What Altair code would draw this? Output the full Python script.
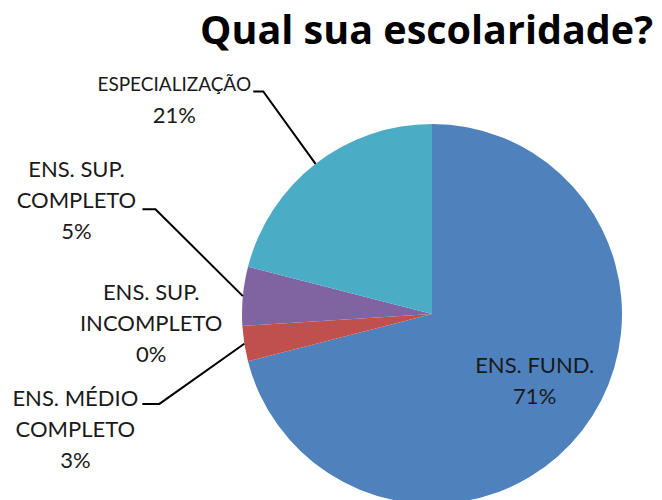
import math
import altair as alt
import pandas as pd

# ---- data ----
categories = ["ENS. FUND.", "ENS. MÉDIO COMPLETO", "ENS. SUP. INCOMPLETO",
              "ENS. SUP. COMPLETO", "ESPECIALIZAÇÃO"]
values = [71, 3, 0, 5, 21]
label_lines = [["ENS. FUND."], ["ENS. MÉDIO", "COMPLETO"], ["ENS. SUP.", "INCOMPLETO"],
               ["ENS. SUP.", "COMPLETO"], ["ESPECIALIZAÇÃO"]]
colors = ["#4F81BD", "#C0504D", "#9BBB59", "#8064A2", "#4BACC6"]
title_text = "Qual sua escolaridade?"

# ---- layout (pixels, plot coordinates) ----
W, H = 646, 500
TITLE_RIGHT = 645
CX, CY, R = 424, 306, 190
LH = 31
label_dist = [123, 375, 281, 373, 335]          # distance of label block from centre
label_shift = [-4.4, -9.0, 1.5, 12.2, -12.5]    # degrees from slice middle
name_size = [22, 22, 22, 22, 19]
leader = {1: ((67, -26), (84, -26)), 3: ((66, 8), (79, 8)), 4: ((79, -8.5), (89, -8.5))}

total = sum(values)
cum = 0
mids = []
for v in values:
    mids.append((cum + v / 2) / total * 2 * math.pi)
    cum += v

pie_df = pd.DataFrame({"cat": categories, "value": values, "ord": list(range(len(values)))})

rows = []
lead_rows = []
for k, cat in enumerate(categories):
    a = mids[k] + math.radians(label_shift[k])
    bx = CX + label_dist[k] * math.sin(a)
    by = CY - label_dist[k] * math.cos(a)
    lines = label_lines[k] + [f"{values[k]}%"]
    n = len(lines)
    for i, t in enumerate(lines):
        is_pct = i == n - 1
        rows.append({"t": t, "px": bx, "py": by + (i - (n - 1) / 2) * LH,
                     "fs": 22 if is_pct else name_size[k]})
    if k in leader:
        (sx, sy), (ex, ey) = leader[k]
        edge = (CX + R * math.sin(mids[k]), CY - R * math.cos(mids[k]))
        pts = [(bx + sx, by + sy), (bx + ex, by + ey), edge]
        for j, (x, y) in enumerate(pts):
            lead_rows.append({"cat": cat, "j": j, "px": x, "py": y})

lab_df = pd.DataFrame(rows)
lead_df = pd.DataFrame(lead_rows)

pie = alt.Chart(pie_df).mark_arc(radius=R).encode(
    theta=alt.Theta("value:Q", stack=True),
    color=alt.Color("cat:N", scale=alt.Scale(domain=categories, range=colors), legend=None),
    order=alt.Order("ord:Q"),
    x=alt.value(CX),
    y=alt.value(CY),
)

leaders = alt.Chart(lead_df).mark_line(color="black", strokeWidth=2).encode(
    x=alt.X("px:Q", scale=None),
    y=alt.Y("py:Q", scale=None),
    detail="cat:N",
    order="j:Q",
)

labels = alt.Chart(lab_df).mark_text(font="Lato", color="#1a1a1a", baseline="middle",
                                     align="center").encode(
    x=alt.X("px:Q", scale=None),
    y=alt.Y("py:Q", scale=None),
    text="t:N",
    size=alt.Size("fs:Q", scale=None),
)

title = alt.Chart(pd.DataFrame({"t": [title_text]})).mark_text(
    font="Open Sans", fontWeight="bold", fontSize=39.5, align="right", baseline="alphabetic",
    color="black").encode(x=alt.value(TITLE_RIGHT), y=alt.value(36), text="t:N")

chart = alt.layer(pie, leaders, labels, title).properties(
    width=W, height=H, autosize=alt.AutoSizeParams(type="none"), padding=0
).configure_view(stroke=None)

chart.save("out.html", embed_options={"renderer": "svg", "actions": False})
